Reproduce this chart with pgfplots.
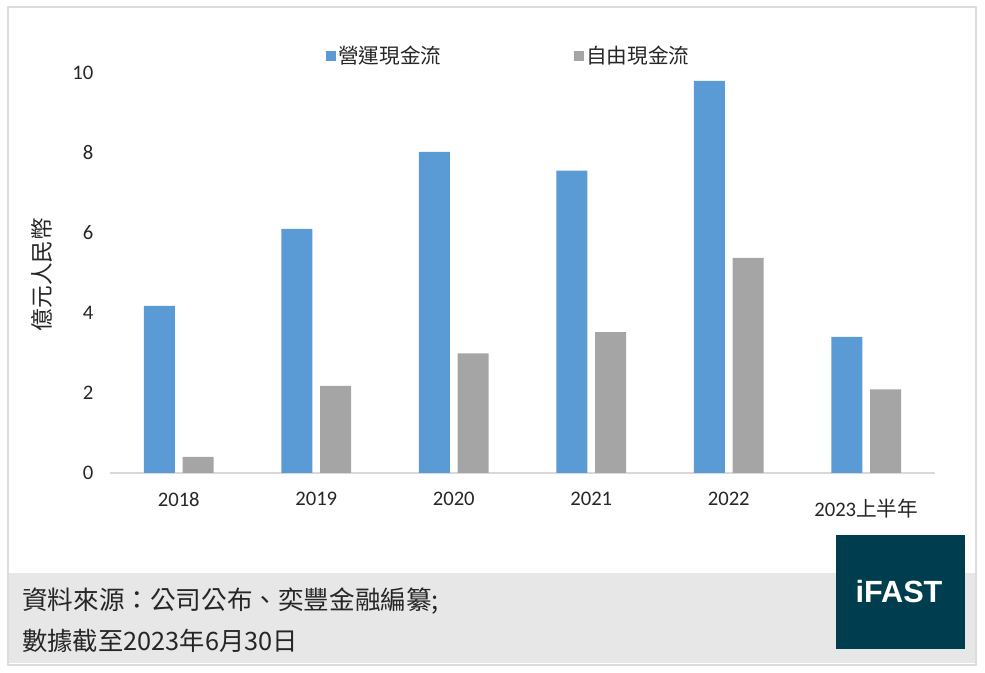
\documentclass[border=0pt]{standalone}
\usepackage{pgfplots}
\pgfplotsset{compat=1.18}
\usepackage{fontspec}
\setmainfont{Carlito}
\newfontfamily\cjk{Noto Sans CJK TC}
\newfontfamily\logofont{Liberation Sans}
\definecolor{opblue}{HTML}{5B9BD5}
\definecolor{fcgray}{HTML}{A5A5A5}
\definecolor{ifastc}{HTML}{003D4F}
\definecolor{footerc}{HTML}{E7E7E7}
\definecolor{framec}{HTML}{DDDDDD}
\definecolor{axisc}{HTML}{D9D9D9}
\definecolor{textc}{HTML}{262626}
\begin{document}
\begin{tikzpicture}[x=0.75pt,y=0.75pt]
\path (0,0) rectangle (985,673);
\draw[framec, line width=1pt] (8,8) rectangle (976,666);
\fill[footerc] (9,10) rectangle (975,100);
\begin{axis}[
  at={(82.5pt,150pt)}, anchor=south west,
  scale only axis, width=618.75pt, height=300pt,
  xmin=-0.5, xmax=5.5, ymin=0, ymax=10,
  ytick={0,2,4,6,8,10},
  xtick={0,1,2,3,4,5},
  xticklabels={2018,2019,2020,2021,2022,{\raisebox{-5pt}[\height][\depth]{2023{\cjk 上半年}}}},
  axis x line*=bottom, axis y line*=left,
  y axis line style={draw=none},
  x axis line style={draw=axisc, line width=1pt, -},
  major tick length=0pt,
  tick label style={font=\fontsize{15.5pt}{18pt}\selectfont, text=textc},
  /pgf/number format/assume math mode=true,
  yticklabel style={xshift=-9pt},
  xticklabel style={yshift=-11pt},
  ylabel={\cjk 億元人民幣},
  ylabel style={at={(rel axis cs:-0.0824,0.496)}, anchor=center, font=\fontsize{17pt}{20pt}\selectfont, text=textc},
  ybar, bar width=23.25pt,
  legend style={at={(0.4835,1.0425)}, anchor=center, draw=none, fill=none,
    legend columns=2, font=\cjk\fontsize{15.5pt}{18pt}\selectfont, text=textc,
    /tikz/every even column/.append style={column sep=97pt},
    legend cell align=left},
  legend image code/.code={\fill[#1] (0pt,-3.75pt) rectangle (7.5pt,3.75pt);},
]
\addplot[fill=opblue, draw=none, bar shift=-14.6pt] coordinates {(0,4.18) (1,6.10) (2,8.03) (3,7.56) (4,9.80) (5,3.40)};
\addplot[fill=fcgray, draw=none, bar shift=14.6pt] coordinates {(0,0.40) (1,2.18) (2,2.99) (3,3.52) (4,5.38) (5,2.09)};
\legend{營運現金流,自由現金流}
\end{axis}
\fill[ifastc] (836,24) rectangle (965,138);
\node[text=white, inner sep=0] at (899,81) {\logofont\bfseries\fontsize{23pt}{23pt}\selectfont iFAST};
\node[anchor=west, inner sep=0, text=textc] at (22,72) {\cjk\fontsize{19.2pt}{19pt}\selectfont 資料來源：公司公布、奕豐金融編纂;};
\node[anchor=west, inner sep=0, text=textc] at (22,32) {\cjk\fontsize{19pt}{19pt}\selectfont 數據截至2023年6月30日};
\end{tikzpicture}
\end{document}
